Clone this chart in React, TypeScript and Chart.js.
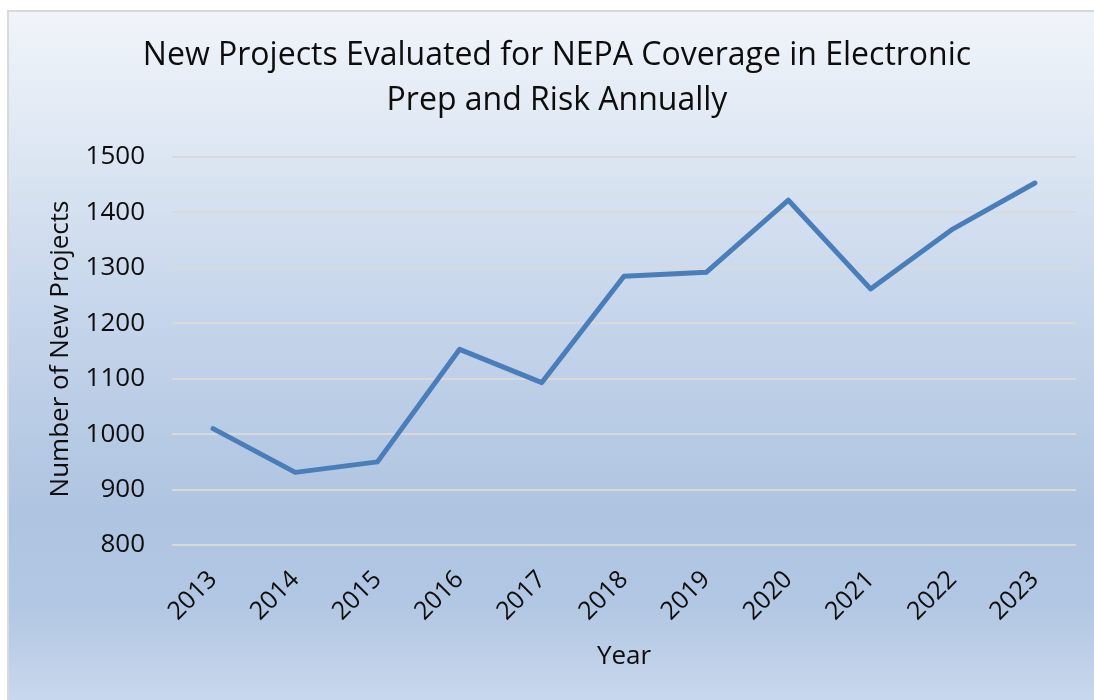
import React, { useEffect, useRef } from "react";
import { Chart, registerables } from "chart.js";

Chart.register(...registerables);

const years = ["2013", "2014", "2015", "2016", "2017", "2018", "2019", "2020", "2021", "2022", "2023"];
const newProjects = [1010, 931, 950, 1153, 1093, 1285, 1292, 1422, 1262, 1370, 1453];
const titleLines = ["New Projects Evaluated for NEPA Coverage in Electronic", "Prep and Risk Annually"];
const xTitle = "Year";
const yTitle = "Number of New Projects";
const yMin = 800;
const yMax = 1500;
const yStep = 100;

const FONT = "'Open Sans', Lato, sans-serif";

const backgroundPlugin = {
  id: "bgBox",
  beforeDraw(chart: any) {
    const { ctx, width, height } = chart;
    ctx.save();
    const g = ctx.createLinearGradient(0, 10, 0, 710);
    g.addColorStop(0, "#f1f5fa");
    g.addColorStop(0.45, "#c4d4ea");
    g.addColorStop(0.72, "#afc4e1");
    g.addColorStop(0.85, "#b2c7e3");
    g.addColorStop(1, "#cad9ed");
    ctx.fillStyle = "#ffffff";
    ctx.fillRect(0, 0, width, height);
    ctx.fillStyle = g;
    ctx.fillRect(8, 11, width, height);
    ctx.strokeStyle = "#d9d9d9";
    ctx.lineWidth = 2;
    ctx.beginPath();
    ctx.moveTo(8, height + 5);
    ctx.lineTo(8, 11);
    ctx.lineTo(width + 5, 11);
    ctx.stroke();
    ctx.restore();
  },
};

const textPlugin = {
  id: "texts",
  afterDraw(chart: any) {
    const { ctx } = chart;
    ctx.save();
    ctx.fillStyle = "#0d0d0d";
    ctx.textAlign = "center";
    ctx.textBaseline = "middle";
    ctx.font = `32px ${FONT}`;
    ctx.fillText(titleLines[0], 557, 56);
    ctx.fillText(titleLines[1], 557, 101);
    ctx.font = `26px ${FONT}`;
    ctx.fillText(xTitle, 624, 657);
    ctx.translate(61, 349);
    ctx.rotate(-Math.PI / 2);
    ctx.fillText(yTitle, 0, 0);
    ctx.restore();
  },
};

export default function App() {
  const ref = useRef<HTMLCanvasElement | null>(null);
  useEffect(() => {
    if (!ref.current) return;
    const chart = new Chart(ref.current, {
      type: "line",
      data: {
        labels: years,
        datasets: [
          {
            data: newProjects,
            borderColor: "#4a7ebb",
            borderWidth: 5,
            pointRadius: 0,
            tension: 0,
            borderCapStyle: "round",
            borderJoinStyle: "round",
          },
        ],
      },
      options: {
        animation: false,
        responsive: false,
        maintainAspectRatio: false,
        layout: { padding: { left: 0, top: 157, right: 18, bottom: 0 } },
        plugins: {
          legend: { display: false },
          title: { display: false },
          tooltip: { enabled: false },
        },
        scales: {
          x: {
            offset: true,
            grid: { display: false },
            border: { display: false },
            ticks: {
              color: "#0d0d0d",
              font: { family: FONT, size: 25 },
              minRotation: 45,
              maxRotation: 45,
              padding: 12,
            },
            afterFit(scale: any) {
              scale.height = 155;
            },
          },
          y: {
            min: yMin,
            max: yMax,
            grid: { color: "#d9d9d9", lineWidth: 2, drawTicks: false },
            border: { display: false },
            ticks: {
              stepSize: yStep,
              color: "#0d0d0d",
              font: { family: FONT, size: 26 },
              padding: 27,
              callback: (v: any) => String(v),
            },
            afterFit(scale: any) {
              scale.width = 172;
            },
          },
        },
      },
      plugins: [backgroundPlugin, textPlugin],
    });
    return () => chart.destroy();
  }, []);
  return (
    <div style={{ position: "absolute", left: 0, top: 0, width: 1094, height: 700 }}>
      <canvas ref={ref} width={1094} height={700} style={{ width: 1094, height: 700, display: "block" }} />
    </div>
  );
}
